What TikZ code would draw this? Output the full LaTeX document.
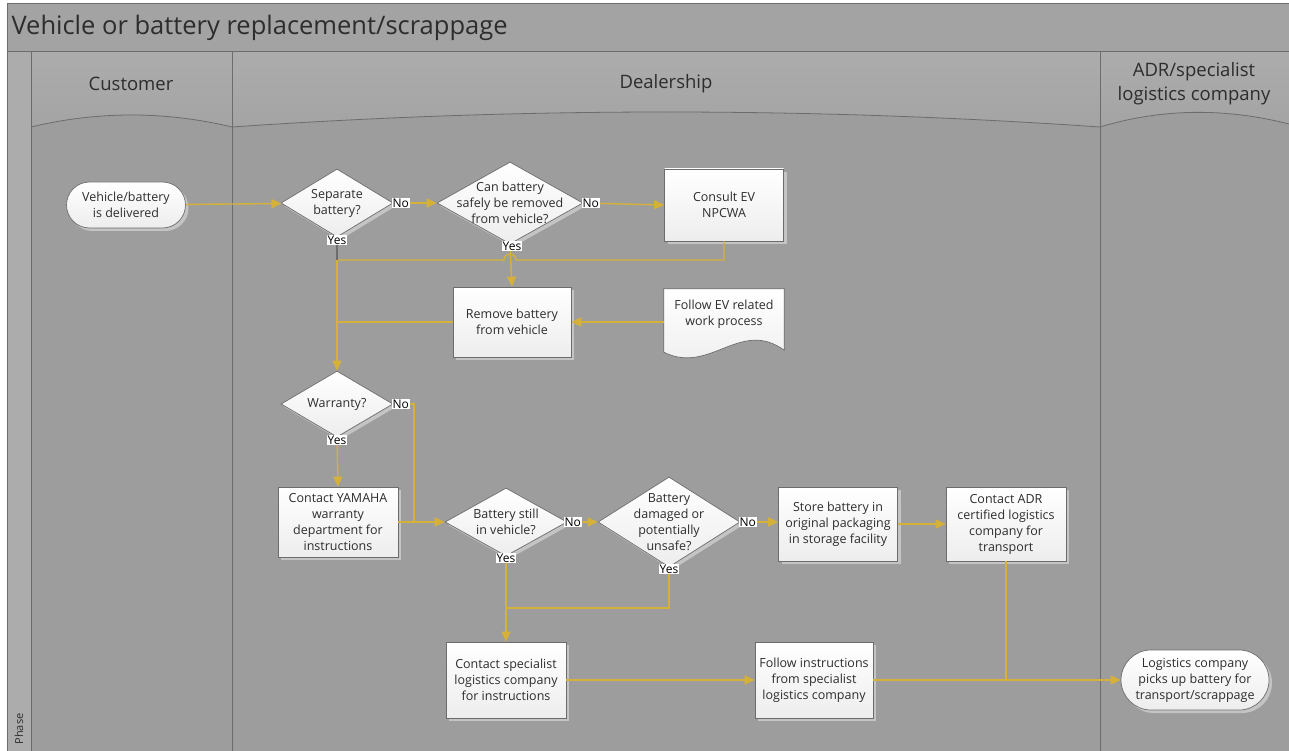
\documentclass[tikz,border=0pt]{standalone}
\usepackage{fontspec}
\setmainfont{Open Sans}
\usetikzlibrary{shapes.geometric,arrows.meta,positioning,calc,shadows}

\definecolor{flowgold}{RGB}{214,177,58}
\definecolor{lanegray}{RGB}{157,157,157}
\definecolor{headgray}{RGB}{164,164,164}
\definecolor{headlight}{RGB}{172,172,172}
\definecolor{titlegray}{RGB}{163,163,163}
\definecolor{edgegray}{RGB}{108,108,108}
\definecolor{txtgray}{RGB}{45,45,45}
\definecolor{shadowgray}{RGB}{196,196,196}

\tikzset{
  boxbase/.style={draw=edgegray, line width=0.7pt, top color=white, bottom color=black!7,
    text=txtgray, font=\fontsize{12.5}{16}\selectfont, align=center, inner sep=0pt,
    drop shadow={shadow xshift=3pt, shadow yshift=-3pt, fill=shadowgray, opacity=1}},
  process/.style 2 args={boxbase, rectangle, minimum width=#1, minimum height=#2},
  decision/.style 2 args={boxbase, diamond, inner sep=-40pt, minimum width=#1, minimum height=#2},
  terminal/.style 2 args={boxbase, rectangle, rounded corners=#2/2, minimum width=#1, minimum height=#2},
  flow/.style={draw=flowgold, line width=1.4pt, -{Triangle[length=10pt,width=9pt]}},
  joint/.style={draw=flowgold, line width=1.4pt},
  choice/.style={fill=white, inner sep=1pt, font=\fontsize{12}{13}\selectfont, text=black},
  lanehead/.style={text=txtgray, font=\fontsize{18.5}{24}\selectfont, align=center}
}

\begin{document}
\begin{tikzpicture}[x=1pt,y=-1pt]
\useasboundingbox (0,0) rectangle (1289,751);

% swimlane frame
\fill[lanegray] (7,4) rectangle (1289,751);
\fill[titlegray] (7,4) rectangle (1289,52);
\fill[headlight] (7,52) rectangle (31,751);
\shade[top color=headlight, bottom color=headgray] (31,52) -- (1289,52) -- (1289,124)
  .. controls (1226,108) and (1163,108) .. (1100,127)
  .. controls (811,107) and (521,107) .. (232,127)
  .. controls (165,111) and (98,111) .. (31,127) -- cycle;
\draw[edgegray, line width=0.8pt] (31,127) .. controls (98,111) and (165,111) .. (232,127)
  .. controls (521,107) and (811,107) .. (1100,127)
  .. controls (1163,108) and (1226,108) .. (1289,124);
\draw[edgegray, line width=1pt] (7,4) rectangle (1289,751);
\draw[edgegray, line width=1pt] (7,52) -- (1289,52);
\foreach \xlane in {31,232,1100}
  \draw[edgegray, line width=1pt] (\xlane,52) -- (\xlane,751);

\node[anchor=west, text=txtgray, font=\fontsize{25.5}{28}\selectfont] (title) at (8,28) {Vehicle or battery replacement/scrappage};
\node[lanehead] (custhead) at (131,84) {Customer};
\node[lanehead] (dealhead) at (666,84) {Dealership};
\node[lanehead] (adrhead) at (1194,84) {ADR/specialist\\logistics company};
\node[rotate=90, anchor=west, text=txtgray, font=\fontsize{11}{12}\selectfont] (phaselabel) at (19,748) {Phase};

% steps
\node[terminal={119pt}{46pt}] (delivered) at (126,205) {Vehicle/battery\\is delivered};
\node[decision={112pt}{68pt}] (separate) at (337,203) {Separate\\battery?};
\node[decision={146pt}{82pt}] (safely) at (510,203) {Can battery\\safely be removed\\from vehicle?};
\node[process={119pt}{72pt}] (consult) at (724,205) {Consult EV\\NPCWA};
\node[process={118pt}{70pt}] (remove) at (512,322) {Remove battery\\from vehicle};
\node[minimum width=120pt, minimum height=60pt, inner sep=0pt] (workdoc) at (724,319) {};
\node[decision={112pt}{66pt}] (warranty) at (337,404) {Warranty?};
\node[process={120pt}{70pt}] (yamaha) at (338,522) {Contact YAMAHA\\warranty\\department for\\instructions};
\node[decision={122pt}{68pt}] (still) at (506,522) {Battery still\\in vehicle?};
\node[decision={142pt}{90pt}] (damaged) at (669,522) {Battery\\damaged or\\potentially\\unsafe?};
\node[process={119pt}{74pt}] (store) at (838,524) {Store battery in\\original packaging\\in storage facility};
\node[process={120pt}{74pt}] (adrcontact) at (1006,524) {Contact ADR\\certified logistics\\company for\\transport};
\node[process={120pt}{76pt}] (specialist) at (506,680) {Contact specialist\\logistics company\\for instructions};
\node[process={118pt}{76pt}] (follow) at (814,680) {Follow instructions\\from specialist\\logistics company};
\node[terminal={148pt}{60pt}] (pickup) at (1195,680) {Logistics company\\picks up battery for\\transport/scrappage};

% document shape
\fill[shadowgray, shift={(3,3)}] (workdoc.north west) -- (workdoc.north east) -- ($(workdoc.south east)+(0,1)$)
  .. controls ($(workdoc.south east)+(-44,-31)$) and ($(workdoc.south west)+(46,26)$) .. ($(workdoc.south west)+(0,3)$) -- cycle;
\draw[edgegray, line width=0.7pt, top color=white, bottom color=black!7] (workdoc.north west) -- (workdoc.north east) -- ($(workdoc.south east)+(0,1)$)
  .. controls ($(workdoc.south east)+(-44,-31)$) and ($(workdoc.south west)+(46,26)$) .. ($(workdoc.south west)+(0,3)$) -- cycle;
\node[text=txtgray, font=\fontsize{12.5}{16}\selectfont, align=center] (doctext) at ($(workdoc.center)+(0,-5)$) {Follow EV related\\work process};

% junctions
\coordinate (topjoin) at (separate.south |- 0,260);
\coordinate (nobend) at (414,404);
\coordinate (yesjoin) at (still.south |- 0,608);

% connectors
\draw[flow] (delivered) -- (separate);
\draw[flow] (separate.east) -- (safely.west);
\draw[flow] (safely.east) -- (consult.west);
\draw[flow] (safely.south) -- (remove.north);
\draw[joint] (consult.south) |- ($(safely.south |- topjoin)+(6,0)$) arc[start angle=0, end angle=-180, radius=6] -- (topjoin);
\draw[flow] (topjoin) -- (warranty.north);
\draw[edgegray, line width=1.2pt] (separate.south) -- (topjoin);
\draw[joint] (remove.west) -- (remove.west -| topjoin);
\draw[flow] (workdoc.west |- remove.east) -- (remove.east);
\draw[flow] (warranty.south) -- (yamaha.north);
\draw[flow] (warranty.east) -- (nobend) |- (still.west);
\draw[joint] (yamaha.east) -- (yamaha.east -| nobend);
\draw[flow] (still.east) -- (damaged.west);
\draw[flow] (damaged.east) -- (store.west |- damaged.east);
\draw[flow] (store.east) -- (adrcontact.west);
\draw[flow] (still.south) -- (specialist.north);
\draw[joint] (damaged.south) |- (yesjoin);
\draw[flow] (specialist.east) -- (follow.west);
\draw[flow] (follow.east) -- (pickup.west);
\draw[joint] (adrcontact.south) -- (adrcontact.south |- pickup.west);

% answers
\node[choice, anchor=west] (separateno) at ($(separate.east)+(-2,0)$) {No};
\node[choice, anchor=north] (separateyes) at ($(separate.south)+(0,-3)$) {Yes};
\node[choice, anchor=west] (safelyno) at ($(safely.east)+(-2,0)$) {No};
\node[choice, anchor=north] (safelyyes) at ($(safely.south)+(2,-4)$) {Yes};
\node[choice, anchor=west] (warrantyno) at ($(warranty.east)+(-2,0)$) {No};
\node[choice, anchor=north] (warrantyyes) at ($(warranty.south)+(0,-3)$) {Yes};
\node[choice, anchor=west] (stillno) at ($(still.east)+(-4,0)$) {No};
\node[choice, anchor=north] (stillyes) at ($(still.south)+(0,-4)$) {Yes};
\node[choice, anchor=west] (damagedno) at ($(damaged.east)+(-2,0)$) {No};
\node[choice, anchor=north] (damagedyes) at ($(damaged.south)+(0,-4)$) {Yes};
\end{tikzpicture}
\end{document}
